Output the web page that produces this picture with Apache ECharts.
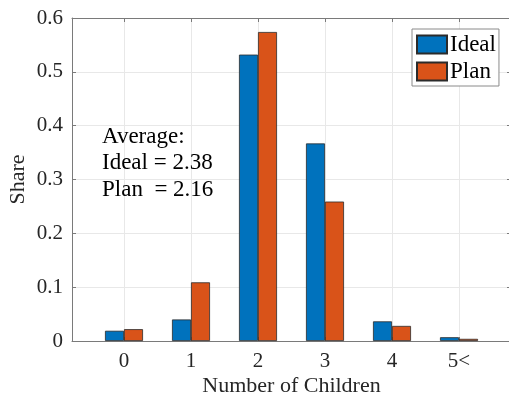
<!DOCTYPE html>
<html>
<head>
<meta charset="utf-8">
<script src="https://cdn.jsdelivr.net/npm/echarts@6/dist/echarts.min.js"></script>
<style>html,body{margin:0;padding:0;background:#fff;}#c{width:509px;height:403px;}</style>
</head>
<body>
<div id="c"></div>
<script>
const categories = ['0', '1', '2', '3', '4', '5<'];
const idealValues = [0.019, 0.040, 0.532, 0.367, 0.0365, 0.007];
const planValues = [0.022, 0.109, 0.574, 0.259, 0.028, 0.004];
const seriesNames = ['Ideal', 'Plan'];
const yTicks = [0, 0.1, 0.2, 0.3, 0.4, 0.5, 0.6];
const annotationLines = ['Average:', 'Ideal = 2.38', 'Plan  = 2.16'];

const FONT = 'Liberation Serif';
const catPos = categories.map((_, i) => i);
const xMin = -0.776, xMax = 5.776;

const chart = echarts.init(document.getElementById('c'), null, {renderer: 'canvas'});
const axisCol = '#7a7a7a';
const gridCol = '#e8e8e8';

const baseX = {
  type: 'value', min: xMin, max: xMax,
  axisLine: {show: true, onZero: false, lineStyle: {color: axisCol, width: 1}},
  axisTick: {show: true, inside: true, length: 4, customValues: catPos, lineStyle: {color: axisCol}},
  splitLine: {show: false},
  axisLabel: {show: false}
};

chart.setOption({
  animation: false,
  backgroundColor: '#fff',
  grid: {left: 72, right: -2, top: 18, bottom: 62, containLabel: false, outerBoundsMode: 'none'},
  legend: {
    orient: 'vertical', left: 412, top: 29,
    data: seriesNames,
    icon: 'rect', itemWidth: 30, itemHeight: 18, itemGap: 4,
    padding: [4, 3, 3, 4],
    backgroundColor: '#fff', borderColor: '#8a8a8a', borderWidth: 1, borderRadius: 0,
    textStyle: {fontFamily: FONT, fontSize: 23, color: '#000', padding: [0, 0, 0, -2]}
  },
  xAxis: [
    Object.assign({}, baseX, {
      position: 'bottom',
      name: 'Number of Children', nameLocation: 'middle', nameGap: 34, nameMoveOverlap: false,
      nameTextStyle: {fontFamily: FONT, fontSize: 22, color: '#262626'},
      splitLine: {show: true, lineStyle: {color: gridCol, width: 1}},
      axisLabel: {show: true, customValues: catPos, margin: 10,
        fontFamily: FONT, fontSize: 21, color: '#262626',
        formatter: v => categories[Math.round(v)]}
    }),
    Object.assign({}, baseX, {position: 'top'})
  ],
  yAxis: [
    {
      type: 'value', min: 0, max: 0.6, interval: 0.1, position: 'left',
      name: 'Share', nameLocation: 'middle', nameGap: 43, nameMoveOverlap: false,
      nameTextStyle: {fontFamily: FONT, fontSize: 22, color: '#262626'},
      axisLine: {show: true, onZero: false, lineStyle: {color: axisCol}},
      axisTick: {show: true, inside: true, length: 4, lineStyle: {color: axisCol}},
      splitLine: {show: true, lineStyle: {color: gridCol, width: 1}},
      axisLabel: {margin: 9, fontFamily: FONT, fontSize: 21, color: '#262626',
        formatter: v => { const t = yTicks.find(x => Math.abs(x - v) < 1e-9); return t === 0 ? '0' : String(t); }}
    },
    {
      type: 'value', min: 0, max: 0.6, interval: 0.1, position: 'right',
      axisLine: {show: true, onZero: false, lineStyle: {color: axisCol}},
      axisTick: {show: true, inside: true, length: 4, lineStyle: {color: axisCol}},
      splitLine: {show: false}, axisLabel: {show: false}
    }
  ],
  series: [
    {
      name: seriesNames[0], type: 'bar', xAxisIndex: 0, yAxisIndex: 0,
      barWidth: 19, barGap: '0%',
      itemStyle: {color: '#0072BD', borderColor: '#2b2b2b', borderWidth: 0.8},
      data: idealValues.map((v, i) => [catPos[i], v])
    },
    {
      name: seriesNames[1], type: 'bar', xAxisIndex: 0, yAxisIndex: 0,
      barWidth: 19, barGap: '0%',
      itemStyle: {color: '#D95319', borderColor: '#2b2b2b', borderWidth: 0.8},
      data: planValues.map((v, i) => [catPos[i], v])
    }
  ],
  graphic: annotationLines.map((t, i) => ({
    type: 'text', left: 102, top: 125 + i * 26.7, z: 100,
    style: {text: t, fontFamily: FONT, fontSize: 23, fill: '#000'}
  }))
});
</script>
</body>
</html>
